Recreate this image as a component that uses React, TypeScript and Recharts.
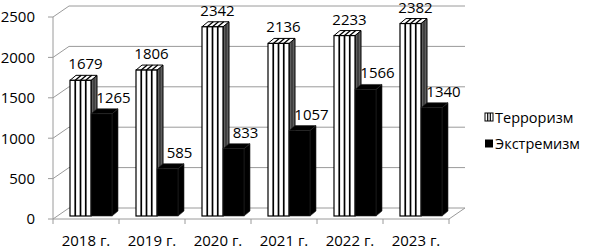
import React from 'react';
import { BarChart, Bar, XAxis, YAxis, CartesianGrid, Legend, LabelList } from 'recharts';

const years = ['2018 г.', '2019 г.', '2020 г.', '2021 г.', '2022 г.', '2023 г.'];
const terrorism = [1679, 1806, 2342, 2136, 2233, 2382];
const extremism = [1265, 585, 833, 1057, 1566, 1340];
const yTicks = [0, 500, 1000, 1500, 2000, 2500];
const seriesNames = { terrorism: 'Терроризм', extremism: 'Экстремизм' };

const data = years.map((year, i) => ({ year, terrorism: terrorism[i], extremism: extremism[i] }));

const W = 595;
const H = 249;
const M_LEFT = 0;
const Y_W = 53;
const M_RIGHT = 34;
const LEGEND_W = 112;
const M_TOP = 17;
const X_H = 30;
const PLOT_L = M_LEFT + Y_W;
const PLOT_R = W - M_RIGHT - LEGEND_W;
const PLOT_B = H - X_H;
const BAND = (PLOT_R - PLOT_L) / years.length;

const WALL_DX = 16;
const WALL_DY = 11;
const BAR_SHIFT_X = 5;
const BAR_SHIFT_Y = 3;
const DEPTH_X = 6;
const DEPTH_Y = 5;
const GRID = '#9a9a9a';
const FONT = '"Open Sans", sans-serif';

function GridLine(p: any) {
  const { x1, x2, y1 } = p;
  const isFloor = Math.abs(y1 - PLOT_B) < 0.5;
  return (
    <g key={p.key}>
      <line x1={x1 + WALL_DX} y1={y1 - WALL_DY} x2={x2 + WALL_DX} y2={y1 - WALL_DY} stroke={GRID} strokeWidth={1} />
      <line x1={x1} y1={y1} x2={x1 + WALL_DX} y2={y1 - WALL_DY} stroke={GRID} strokeWidth={1} />
      {isFloor && <line x1={x2} y1={y1} x2={x2 + WALL_DX} y2={y1 - WALL_DY} stroke={GRID} strokeWidth={1} />}
    </g>
  );
}

function Bar3D(props: any, variant: 'striped' | 'solid') {
  const { x, y, width, height } = props;
  if (height == null || width == null) return <g />;
  const X = x + BAR_SHIFT_X;
  const Y = y - BAR_SHIFT_Y;
  const w = width;
  const h = height;
  const side = `${X + w},${Y} ${X + w + DEPTH_X},${Y - DEPTH_Y} ${X + w + DEPTH_X},${Y + h - DEPTH_Y} ${X + w},${Y + h}`;
  const top = `${X},${Y} ${X + DEPTH_X},${Y - DEPTH_Y} ${X + w + DEPTH_X},${Y - DEPTH_Y} ${X + w},${Y}`;
  if (variant === 'solid') {
    return (
      <g>
        <polygon points={side} fill="#000" stroke="#222" strokeWidth={0.6} />
        <polygon points={top} fill="#000" stroke="#222" strokeWidth={0.6} />
        <rect x={X} y={Y} width={w} height={h} fill="#000" stroke="#222" strokeWidth={0.6} />
      </g>
    );
  }
  const n = 4;
  const lines = [];
  for (let i = 1; i < n; i++) {
    const lx = X + (i * w) / n;
    lines.push(<line key={'f' + i} x1={lx} y1={Y} x2={lx} y2={Y + h} stroke="#000" strokeWidth={1.7} />);
    lines.push(<line key={'t' + i} x1={lx} y1={Y} x2={lx + DEPTH_X} y2={Y - DEPTH_Y} stroke="#000" strokeWidth={1.3} />);
  }
  return (
    <g>
      <polygon points={side} fill="#5e5e5e" stroke="#000" strokeWidth={1} />
      <line x1={X + w + DEPTH_X / 2} y1={Y - DEPTH_Y / 2} x2={X + w + DEPTH_X / 2} y2={Y + h - DEPTH_Y / 2} stroke="#222" strokeWidth={1} />
      <polygon points={top} fill="#fff" stroke="#000" strokeWidth={1} />
      <rect x={X} y={Y} width={w} height={h} fill="#fff" stroke="#000" strokeWidth={1.2} />
      {lines}
    </g>
  );
}

function makeLabel(dx: number) {
  return (p: any) => {
    const { x, y, width, value } = p;
    return (
      <text
        x={x + BAR_SHIFT_X + width / 2 + dx}
        y={y - BAR_SHIFT_Y - 17}
        textAnchor="middle"
        dominantBaseline="central"
        fontFamily={FONT}
        fontSize={15}
        fill="#000"
      >
        {value}
      </text>
    );
  };
}

function XTick(p: any) {
  const { x, payload, index } = p;
  const last = index === years.length - 1;
  return (
    <g>
      <line x1={x - BAND / 2} y1={PLOT_B} x2={x - BAND / 2} y2={PLOT_B + 5} stroke={GRID} />
      {last && <line x1={x + BAND / 2} y1={PLOT_B} x2={x + BAND / 2} y2={PLOT_B + 5} stroke={GRID} />}
      <text x={x} y={PLOT_B + 21} textAnchor="middle" dominantBaseline="central" fontFamily={FONT} fontSize={15} fill="#000">
        {payload.value}
      </text>
    </g>
  );
}

function LegendContent(p: any) {
  const items = p.payload || [];
  return (
    <svg width={LEGEND_W} height={60} style={{ display: 'block' }}>
      {items.map((it: any, i: number) => {
        const cy = 13 + i * 26;
        const striped = it.dataKey === 'terrorism';
        return (
          <g key={i}>
            {striped ? (
              <g>
                <rect x={2} y={cy - 4} width={8} height={8} fill="#fff" stroke="#000" strokeWidth={1} />
                <line x1={4.7} y1={cy - 4} x2={4.7} y2={cy + 4} stroke="#000" strokeWidth={1.2} />
                <line x1={7.3} y1={cy - 4} x2={7.3} y2={cy + 4} stroke="#000" strokeWidth={1.2} />
              </g>
            ) : (
              <rect x={2} y={cy - 3.5} width={8} height={8} fill="#000" />
            )}
            <text x={12} y={cy} dominantBaseline="central" fontFamily={FONT} fontSize={14.5} fill="#000">
              {it.value}
            </text>
          </g>
        );
      })}
    </svg>
  );
}

export default function App() {
  return (
    <div style={{ position: 'absolute', left: 0, top: 0, width: W, height: H, background: '#fff' }}>
      <BarChart
        width={W}
        height={H}
        data={data}
        margin={{ top: M_TOP, right: M_RIGHT, bottom: 0, left: M_LEFT }}
        barGap={0}
        barSize={21}
      >
        <CartesianGrid vertical={false} horizontal={GridLine as any} />
        <XAxis
          dataKey="year"
          height={X_H}
          axisLine={{ stroke: GRID }}
          tickLine={false}
          tick={XTick as any}
          interval={0}
        />
        <YAxis
          domain={[0, 2500]}
          ticks={yTicks}
          width={Y_W}
          tickSize={5}
          tickMargin={13}
          axisLine={{ stroke: GRID }}
          tickLine={{ stroke: GRID }}
          tick={{ fill: '#000', fontSize: 15, fontFamily: FONT }}
          interval={0}
        />
        <Legend
          layout="vertical"
          align="right"
          verticalAlign="middle"
          width={LEGEND_W}
          content={LegendContent as any}
          wrapperStyle={{ left: 483, top: 104, width: LEGEND_W, height: 60 }}
        />
        <Bar dataKey="terrorism" name={seriesNames.terrorism} isAnimationActive={false} shape={(p: any) => Bar3D(p, 'striped')}>
          <LabelList dataKey="terrorism" content={makeLabel(5) as any} />
        </Bar>
        <Bar dataKey="extremism" name={seriesNames.extremism} isAnimationActive={false} shape={(p: any) => Bar3D(p, 'solid')}>
          <LabelList dataKey="extremism" content={makeLabel(12) as any} />
        </Bar>
      </BarChart>
    </div>
  );
}
